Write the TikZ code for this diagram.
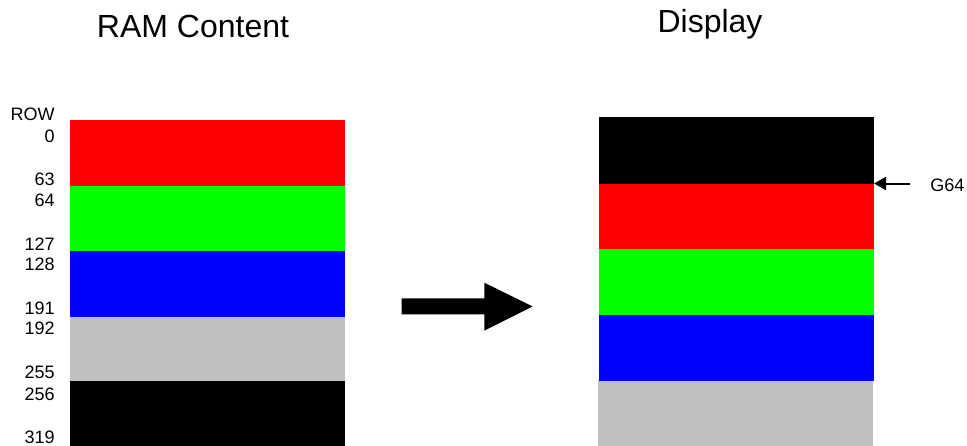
\documentclass[tikz,border=0pt]{standalone}
\usepackage{fontspec}
\setmainfont{Liberation Sans}
\usetikzlibrary{arrows.meta}
\definecolor{cRed}{RGB}{255,0,0}
\definecolor{cGreen}{RGB}{0,255,0}
\definecolor{cBlue}{RGB}{0,0,255}
\definecolor{cGray}{RGB}{192,192,192}
\definecolor{cBlack}{RGB}{0,0,0}
\begin{document}
\begin{tikzpicture}[x=0.75pt,y=-0.75pt,
  bar/.style={draw=none,inner sep=0pt,outer sep=0pt,anchor=north west,minimum width=206.25pt},
  rowlbl/.style={inner sep=0pt,anchor=base east,font=\fontsize{13.5pt}{15pt}\selectfont},
  title/.style={inner sep=0pt,anchor=base,font=\fontsize{24pt}{28pt}\selectfont}]
\useasboundingbox (0,0) rectangle (967,446);
% titles
\node[title] (t1) at (193,37) {RAM Content};
\node[title] (t2) at (710,32) {Display};
% left bars
\node[bar,fill=cRed,minimum height=49.5pt] (l1) at (70,120) {};
\node[bar,fill=cGreen,minimum height=48.75pt] (l2) at (70,186) {};
\node[bar,fill=cBlue,minimum height=49.5pt] (l3) at (70,251) {};
\node[bar,fill=cGray,minimum height=48pt] (l4) at (70,317) {};
\node[bar,fill=cBlack,minimum height=48.75pt] (l5) at (70,381) {};
% row labels
\node[rowlbl] (rw) at (55,120.7) {ROW};
\node[rowlbl] (a0) at (55,142.7) {0};
\node[rowlbl] (a1) at (55,185) {63};
\node[rowlbl] (a2) at (55,206.7) {64};
\node[rowlbl] (a3) at (55,250) {127};
\node[rowlbl] (a4) at (55,270.7) {128};
\node[rowlbl] (a5) at (55,314) {191};
\node[rowlbl] (a6) at (55,334.3) {192};
\node[rowlbl] (a7) at (55,378.3) {255};
\node[rowlbl] (a8) at (55,400) {256};
\node[rowlbl] (a9) at (55,443.3) {319};
% right bars
\node[bar,fill=cGray,minimum height=49.5pt] (r5) at (598,380) {};
\node[bar,fill=cBlack,minimum height=50pt] (r1) at (599,117) {};
\node[bar,fill=cRed,minimum height=49.2pt] (r2) at (599,183.7) {};
\node[bar,fill=cGreen,minimum height=49pt] (r3) at (599,249.3) {};
\node[bar,fill=cBlue,minimum height=49.6pt] (r4) at (599,314.7) {};
% big arrow
\fill[black] (401.7,298.3) -- (484.3,298.3) -- (484.3,282.7) -- (532.7,306.5)
  -- (484.3,330.7) -- (484.3,314.3) -- (401.7,314.3) -- cycle;
% G64 pointer
\node[rowlbl,anchor=base west] (g64) at (930,191) {G64};
\coordinate (gtip) at (874,183.5);
\draw[line width=1.5pt,shorten <=15pt,-{Triangle[length=9pt,width=9.75pt]}] (g64.west |- gtip) -- (gtip);
\end{tikzpicture}
\end{document}
